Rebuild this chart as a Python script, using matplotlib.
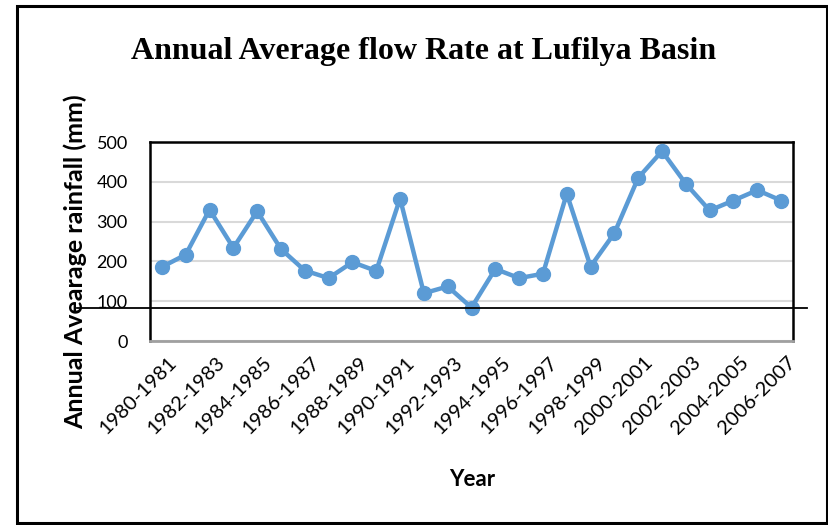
import matplotlib
matplotlib.use("Agg")
import matplotlib.pyplot as plt
import matplotlib.transforms as mtransforms
from matplotlib.lines import Line2D
from matplotlib.patches import Rectangle

years = [f"{y}-{y + 1}" for y in range(1980, 2007)]
flow = [186, 217, 330, 234, 326, 231, 177, 158, 198, 176, 358, 120, 137, 84,
        181, 158, 169, 370, 187, 271, 410, 477, 395, 328, 353, 379, 353]
y_ticks = [0, 100, 200, 300, 400, 500]

W, H = 829, 525
fig = plt.figure(figsize=(W / 100, H / 100), dpi=100)
ax = fig.add_axes([150 / W, 1 - 341 / H, 643 / W, 199 / H])

x = list(range(len(years)))
ax.plot(x, flow, color="#5B9BD5", linewidth=3.2, marker="o", markersize=10,
        markerfacecolor="#5B9BD5", markeredgecolor="#5B9BD5", zorder=3)

ax.set_xlim(-0.5, len(years) - 0.5)
ax.set_ylim(0, 500)
ax.set_yticks(y_ticks)
ax.set_yticklabels([str(v) for v in y_ticks], fontfamily="Lato", fontsize=13)
ax.set_xticks(x[::2])
ax.set_xticklabels(years[::2], rotation=45, ha="right", rotation_mode="anchor",
                   fontfamily="Lato", fontsize=14.5)
ax.tick_params(axis="both", length=0)
ax.tick_params(axis="x", pad=9)
ax.tick_params(axis="y", pad=16)
shift = mtransforms.ScaledTranslation(6 / 100, 0, fig.dpi_scale_trans)
for lbl in ax.get_xticklabels():
    lbl.set_transform(lbl.get_transform() + shift)

ax.grid(axis="y", color="#D9D9D9", linewidth=1.5)
ax.set_axisbelow(True)
for side in ("top", "left", "right"):
    ax.spines[side].set_color("black")
    ax.spines[side].set_linewidth(1.8)
ax.spines["bottom"].set_color("#A0A0A0")
ax.spines["bottom"].set_linewidth(2)

ax.set_ylabel("Annual Avearage rainfall (mm)", fontfamily="Lato",
              fontweight="bold", fontsize=18)
ax.yaxis.set_label_coords((87 - 150) / 643, (341 - 262) / 199)
ax.set_xlabel("Year", fontfamily="Lato", fontweight="bold", fontsize=16)
ax.xaxis.set_label_coords((472 - 150) / 643, -(469 - 341) / 199)

fig.text(424 / W, 1 - 51 / H, "Annual Average flow Rate at Lufilya Basin",
         fontfamily="Liberation Serif", fontweight="bold", fontsize=23,
         ha="center", va="center")

# horizontal rule across the chart area
fig.add_artist(Line2D([77 / W, 807 / W], [1 - 308 / H, 1 - 308 / H],
                      color="black", linewidth=1.3))
# outer frame
fig.add_artist(Rectangle((17 / W, 1 - 523 / H), 810 / W, 517 / H,
                         fill=False, edgecolor="black", linewidth=2.2,
                         transform=fig.transFigure))

fig.savefig("out.png", dpi=100)
